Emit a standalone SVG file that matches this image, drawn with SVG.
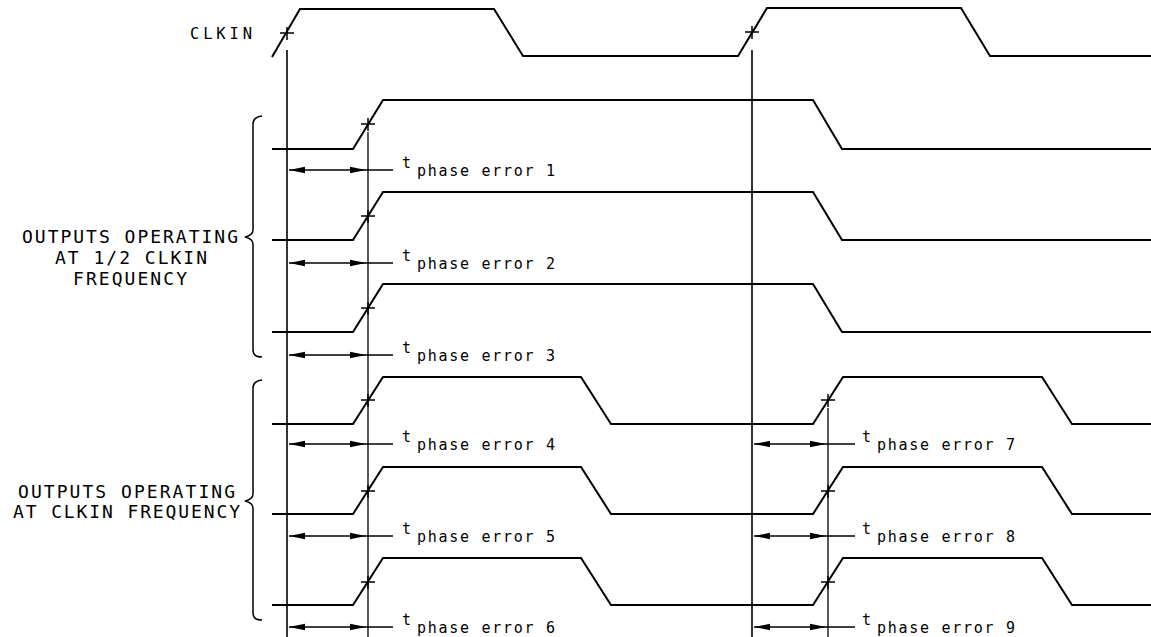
<svg xmlns="http://www.w3.org/2000/svg" width="1151" height="637" viewBox="0 0 1151 637">
<style>
.w{fill:none;stroke:#000;stroke-width:2;stroke-linejoin:miter}
.v{fill:none;stroke:#000;stroke-width:1.6}
.d{fill:none;stroke:#000;stroke-width:1.3}
.x{fill:none;stroke:#000;stroke-width:1.5}
.br{fill:none;stroke:#000;stroke-width:1.5}
.dim{fill:none;stroke:#000;stroke-width:1.5}
.cap{font-family:"DejaVu Sans Mono","Liberation Mono",monospace;font-size:18px;fill:#000}
.clk{font-family:"DejaVu Sans Mono","Liberation Mono",monospace;font-size:15.5px;fill:#000}
.t{font-family:"DejaVu Sans Mono","Liberation Mono",monospace;font-size:15px;fill:#000}
</style>
<defs>
<marker id="ah" markerUnits="userSpaceOnUse" markerWidth="18" markerHeight="10" refX="16" refY="5" orient="auto-start-reverse">
<path d="M0,1.8 L16,5 L0,8.2 Z" fill="#000"/>
</marker>
</defs>
<rect width="1151" height="637" fill="#fff"/>

<g id="clkin">
<text class="clk" x="190" y="39" textLength="62" lengthAdjust="spacing">CLKIN</text>
<polyline class="w" points="272,57 300,9 494,9 523,56 738,56 767,8 961,8 990,56 1151,56"/>
<path class="x" d="M280,33 H294 M287,27 V40 M745,32 H759 M752,26 V39"/>
</g>

<g id="refs">
<line class="v" x1="287" y1="50" x2="287" y2="637"/>
<line class="v" x1="752" y1="50" x2="752" y2="637"/>
<line class="d" x1="368" y1="132" x2="368" y2="637"/>
<line class="d" x1="828" y1="408" x2="828" y2="637"/>
</g>

<g id="out1">
<polyline class="w" points="272,149 353,149 383,100 813,100 842,149 1151,149"/>
<path class="x" d="M361,124 H375 M368,118 V131"/>
</g>
<g id="out2">
<polyline class="w" points="272,240 353,240 383,192 813,192 842,240 1151,240"/>
<path class="x" d="M361,216 H375 M368,210 V223"/>
</g>
<g id="out3">
<polyline class="w" points="272,332 353,332 383,284 813,284 842,332 1151,332"/>
<path class="x" d="M361,308 H375 M368,302 V315"/>
</g>
<g id="out4">
<polyline class="w" points="272,424 353,424 383,377 581,377 611,424 813,424 843,377 1042,377 1072,424 1151,424"/>
<path class="x" d="M361,400 H375 M368,394 V407 M821,400 H835 M828,394 V407"/>
</g>
<g id="out5">
<polyline class="w" points="272,514 353,514 383,467 581,467 611,514 813,514 843,467 1042,467 1072,514 1151,514"/>
<path class="x" d="M361,491 H375 M368,485 V498 M821,491 H835 M828,485 V498"/>
</g>
<g id="out6">
<polyline class="w" points="272,605 353,605 383,558 581,558 611,605 813,605 843,558 1042,558 1072,605 1151,605"/>
<path class="x" d="M361,582 H375 M368,576 V589 M821,582 H835 M828,576 V589"/>
</g>

<g id="group-half">
<path class="br" d="M262,116 Q253,117 253,124 V230 Q253,235 245,237 Q253,239 253,244 V350 Q253,357 262,357"/>
<text class="cap" x="22" y="243" textLength="216" lengthAdjust="spacing">OUTPUTS OPERATING</text>
<text class="cap" x="55" y="264" textLength="152" lengthAdjust="spacing">AT 1/2 CLKIN</text>
<text class="cap" x="73" y="285" textLength="114" lengthAdjust="spacing">FREQUENCY</text>
</g>
<g id="group-full">
<path class="br" d="M262,380 Q253,381 253,388 V494 Q253,499 245,501 Q253,503 253,508 V613 Q253,620 262,620"/>
<text class="cap" x="18" y="498" textLength="217" lengthAdjust="spacing">OUTPUTS OPERATING</text>
<text class="cap" x="13" y="518" textLength="227" lengthAdjust="spacing">AT CLKIN FREQUENCY</text>
</g>

<g id="connectors">
<line class="dim" x1="289" y1="170" x2="366" y2="170" marker-start="url(#ah)" marker-end="url(#ah)"/>
<line class="dim" x1="366" y1="170" x2="393" y2="170"/>
<line class="dim" x1="289" y1="263" x2="366" y2="263" marker-start="url(#ah)" marker-end="url(#ah)"/>
<line class="dim" x1="366" y1="263" x2="393" y2="263"/>
<line class="dim" x1="289" y1="355" x2="366" y2="355" marker-start="url(#ah)" marker-end="url(#ah)"/>
<line class="dim" x1="366" y1="355" x2="393" y2="355"/>
<line class="dim" x1="289" y1="444" x2="366" y2="444" marker-start="url(#ah)" marker-end="url(#ah)"/>
<line class="dim" x1="366" y1="444" x2="393" y2="444"/>
<line class="dim" x1="289" y1="536" x2="366" y2="536" marker-start="url(#ah)" marker-end="url(#ah)"/>
<line class="dim" x1="366" y1="536" x2="393" y2="536"/>
<line class="dim" x1="289" y1="627" x2="366" y2="627" marker-start="url(#ah)" marker-end="url(#ah)"/>
<line class="dim" x1="366" y1="627" x2="393" y2="627"/>
<line class="dim" x1="754" y1="444" x2="826" y2="444" marker-start="url(#ah)" marker-end="url(#ah)"/>
<line class="dim" x1="826" y1="444" x2="855" y2="444"/>
<line class="dim" x1="754" y1="536" x2="826" y2="536" marker-start="url(#ah)" marker-end="url(#ah)"/>
<line class="dim" x1="826" y1="536" x2="855" y2="536"/>
<line class="dim" x1="754" y1="627" x2="826" y2="627" marker-start="url(#ah)" marker-end="url(#ah)"/>
<line class="dim" x1="826" y1="627" x2="855" y2="627"/>
</g>

<g id="labels">
<text class="t" x="402" y="168">t</text><text class="t" x="417" y="176" textLength="138" lengthAdjust="spacing">phase error 1</text>
<text class="t" x="402" y="261">t</text><text class="t" x="417" y="269" textLength="138" lengthAdjust="spacing">phase error 2</text>
<text class="t" x="402" y="353">t</text><text class="t" x="417" y="361" textLength="138" lengthAdjust="spacing">phase error 3</text>
<text class="t" x="402" y="442">t</text><text class="t" x="417" y="450" textLength="138" lengthAdjust="spacing">phase error 4</text>
<text class="t" x="402" y="534">t</text><text class="t" x="417" y="542" textLength="138" lengthAdjust="spacing">phase error 5</text>
<text class="t" x="402" y="625">t</text><text class="t" x="417" y="633" textLength="138" lengthAdjust="spacing">phase error 6</text>
<text class="t" x="862" y="442">t</text><text class="t" x="877" y="450" textLength="138" lengthAdjust="spacing">phase error 7</text>
<text class="t" x="862" y="534">t</text><text class="t" x="877" y="542" textLength="138" lengthAdjust="spacing">phase error 8</text>
<text class="t" x="862" y="625">t</text><text class="t" x="877" y="633" textLength="138" lengthAdjust="spacing">phase error 9</text>
</g>
</svg>
